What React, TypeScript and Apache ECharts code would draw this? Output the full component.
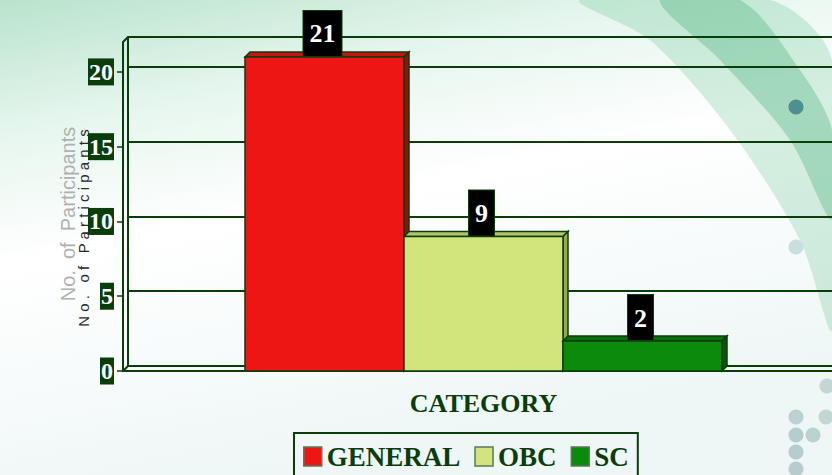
import React, { useEffect, useRef } from "react";
import * as echarts from "echarts";

const categories = ["CATEGORY"];
const seriesNames = ["GENERAL", "OBC", "SC"];
const seriesValues = [[21], [9], [2]];
const yTicks = [0, 5, 10, 15, 20];

const FRONT = ["#ee1515", "#d2e47c", "#0b8a0b"];
const TOPC = ["#d01010", "#b4c468", "#0a6e0a"];
const SIDE = ["#a00c0c", "#98a850", "#065606"];
const DARK = "#0b3d0b";
const BAR_W = 159;
const GROUP_SHIFT = 6;
const D = 5;

function makeRender(idx: number) {
  return (params: any, api: any) => {
    const val = api.value(1);
    const base = api.coord([api.value(0), 0]);
    const top = api.coord([api.value(0), val]);
    const cx = base[0] + GROUP_SHIFT + (idx - 1) * BAR_W;
    const x0 = cx - BAR_W / 2;
    const x1 = cx + BAR_W / 2;
    const ty = top[1];
    const by = base[1];
    return {
      type: "group",
      children: [
        {
          type: "polygon",
          shape: { points: [[x0, ty], [x0 + D, ty - D], [x1 + D, ty - D], [x1, ty]] },
          style: { fill: TOPC[idx], stroke: DARK, lineWidth: 1.5 },
        },
        {
          type: "polygon",
          shape: { points: [[x1, ty], [x1 + D, ty - D], [x1 + D, by - D], [x1, by]] },
          style: { fill: SIDE[idx], stroke: DARK, lineWidth: 1.5 },
        },
        {
          type: "rect",
          shape: { x: x0, y: ty, width: BAR_W, height: by - ty },
          style: { fill: FRONT[idx], stroke: DARK, lineWidth: 1.5 },
        },
        {
          type: "text",
          style: {
            text: String(val),
            x: cx - 2,
            y: ty - 1,
            align: "center",
            verticalAlign: "bottom",
            fill: "#ffffff",
            fontSize: 26,
            fontWeight: "bold",
            fontFamily: "Liberation Serif",
            backgroundColor: "#000000",
            borderColor: DARK,
            borderWidth: 1,
            padding: [10, 6, 9, 6],
          },
        },
      ],
    };
  };
}

export default function App() {
  const ref = useRef<HTMLDivElement>(null);
  useEffect(() => {
    if (!ref.current) return;
    const chart = echarts.init(ref.current, undefined, { renderer: "svg" });
    const dots = [
      [796, 107, "#4f8f90"],
      [796, 247, "#c9dede"],
      [827, 386, "#c3d6d6"],
      [796, 417, "#bcd2d2"],
      [826, 417, "#c3d6d6"],
      [796, 435, "#b6cdcd"],
      [813, 435, "#bcd2d2"],
      [796, 452, "#b6cdcd"],
      [796, 469, "#b6cdcd"],
    ];
    const option: any = {
      animation: false,
      backgroundColor: {
        type: "linear",
        x: 0,
        y: 0,
        x2: 0.35,
        y2: 1,
        colorStops: [
          { offset: 0, color: "#b9e3cc" },
          { offset: 0.25, color: "#e6f6ee" },
          { offset: 0.5, color: "#ffffff" },
          { offset: 1, color: "#eef6f6" },
        ],
      },
      graphic: [
        {
          type: "polygon",
          z: -10,
          shape: {
            points: [[580, 0], [770, 0], [832, 60], [832, 330], [800, 240], [730, 130], [650, 40]],
            smooth: 0.3,
          },
          style: { fill: "rgba(70,180,120,0.22)" },
        },
        {
          type: "polygon",
          z: -10,
          shape: {
            points: [[660, 0], [740, 0], [800, 70], [832, 130], [832, 220], [790, 140], [720, 60]],
            smooth: 0.3,
          },
          style: { fill: "rgba(40,160,100,0.28)" },
        },
        ...dots.map((d) => ({
          type: "circle",
          z: -9,
          shape: { cx: d[0], cy: d[1], r: 7.5 },
          style: { fill: d[2] },
        })),
        {
          type: "line",
          shape: { x1: 123, y1: 42, x2: 128, y2: 37 },
          style: { stroke: DARK, lineWidth: 2 },
        },
        {
          type: "line",
          shape: { x1: 123, y1: 371, x2: 128, y2: 366 },
          style: { stroke: DARK, lineWidth: 2 },
        },
        {
          type: "text",
          x: 68,
          y: 214,
          rotation: Math.PI / 2,
          style: {
            text: "No.  of  Participants",
            fontSize: 20,
            fontFamily: "Liberation Sans",
            fill: "#b0b0b0",
            align: "center",
            verticalAlign: "middle",
          },
        },
        {
          type: "text",
          x: 83,
          y: 228,
          rotation: Math.PI / 2,
          style: {
            text: "N o .   o f   P a r t i c i p a n t s",
            fontSize: 15,
            fontFamily: "Liberation Sans",
            fill: "#2a2a2a",
            align: "center",
            verticalAlign: "middle",
          },
        },
      ],
      legend: {
        data: seriesNames,
        top: 433,
        left: 294,
        orient: "horizontal",
        icon: "rect",
        itemWidth: 18,
        itemHeight: 19,
        itemGap: 14,
        padding: [10, 9, 12, 9],
        borderColor: DARK,
        borderWidth: 2,
        textStyle: {
          color: DARK,
          fontSize: 27,
          fontWeight: "bold",
          fontFamily: "Liberation Serif",
        },
        itemStyle: { borderColor: "#5a7a5a", borderWidth: 1.5 },
      },
      grid: [
        { left: 128, right: 0, top: 37, bottom: 109 },
        { left: 123, right: 0, top: 42, bottom: 104 },
      ],
      xAxis: [
        {
          gridIndex: 0,
          type: "category",
          data: categories,
          axisLine: { show: true, lineStyle: { color: DARK, width: 2 } },
          axisTick: { show: false },
          axisLabel: { show: false },
        },
        {
          gridIndex: 1,
          type: "category",
          data: categories,
          axisLine: { show: true, lineStyle: { color: DARK, width: 2 } },
          axisTick: { show: false },
          axisLabel: { show: false },
          name: "CATEGORY",
          nameLocation: "middle",
          nameGap: 19,
          nameTextStyle: {
            color: DARK,
            fontSize: 26,
            fontWeight: "bold",
            fontFamily: "Liberation Serif",
            padding: [0, 0, 0, 12],
          },
        },
      ],
      yAxis: [
        {
          gridIndex: 0,
          type: "value",
          min: 0,
          max: 22,
          interval: 5,
          axisLine: { show: true, lineStyle: { color: DARK, width: 2 } },
          axisTick: { show: false },
          axisLabel: { show: false },
          splitLine: { show: true, lineStyle: { color: DARK, width: 2 } },
        },
        {
          gridIndex: 1,
          type: "value",
          min: 0,
          max: 22,
          interval: 5,
          axisLine: { show: true, lineStyle: { color: DARK, width: 2 } },
          axisTick: {
            show: true,
            length: 6,
            customValues: yTicks,
            lineStyle: { color: DARK, width: 1.5 },
          },
          axisLabel: {
            customValues: yTicks,
            margin: 9,
            color: "#ffffff",
            backgroundColor: DARK,
            fontSize: 24,
            fontWeight: "bold",
            fontFamily: "Liberation Serif",
            padding: [2, 1, 1, 1],
            lineHeight: 24,
          },
          splitLine: { show: false },
        },
      ],
      series: seriesNames.map((name, i) => ({
        name,
        type: "custom",
        xAxisIndex: 1,
        yAxisIndex: 1,
        itemStyle: { color: FRONT[i], borderColor: "#5a7a5a" },
        renderItem: makeRender(i),
        encode: { x: 0, y: 1 },
        data: categories.map((c, k) => [k, seriesValues[i][k]]),
      })),
    };
    chart.setOption(option);
    return () => chart.dispose();
  }, []);
  return (
    <div
      ref={ref}
      style={{ position: "fixed", left: 0, top: 0, width: 832, height: 475 }}
    />
  );
}
